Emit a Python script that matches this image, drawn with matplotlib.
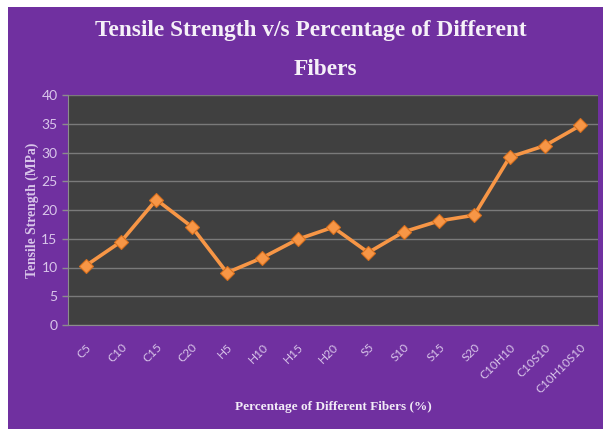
import matplotlib.pyplot as plt
from matplotlib.patches import Rectangle

categories = ["C5", "C10", "C15", "C20", "H5", "H10", "H15", "H20",
              "S5", "S10", "S15", "S20", "C10H10", "C10S10", "C10H10S10"]
strength = [10.3, 14.5, 21.8, 17.1, 9.1, 11.7, 14.9, 17.0,
            12.6, 16.2, 18.1, 19.1, 29.2, 31.2, 34.7]
y_ticks = [0, 5, 10, 15, 20, 25, 30, 35, 40]

purple = "#7030A0"
lavender = "#D9C6EA"
tick_font = "Lato"

fig = plt.figure(figsize=(6.03, 4.29), dpi=100)
fig.patch.set_facecolor("white")
# purple chart area with a thin white margin top/left
fig.add_artist(Rectangle((8 / 603, 0), 1, 1 - 7 / 429, transform=fig.transFigure,
                         facecolor=purple, edgecolor="none", zorder=-5))

ax = fig.add_axes([68 / 603, 104 / 429, 530 / 603, 230 / 429])
ax.set_facecolor("#404040")

x = list(range(len(categories)))
ax.plot(x, strength, color="#F79646", lw=2.6, marker="D", markersize=7,
        markerfacecolor="#F79646", markeredgecolor="#D9701E", markeredgewidth=0.8,
        zorder=3)

ax.set_xlim(-0.5, len(categories) - 0.5)
ax.set_ylim(0, 40)
ax.set_yticks(y_ticks)
ax.set_xticks(x)
ax.set_xticklabels(categories, rotation=45, ha="right", rotation_mode="anchor",
                   fontsize=8.6, color=lavender, family=tick_font)
ax.tick_params(axis="y", labelsize=10, labelcolor=lavender, color="#8C8C8C",
               length=4, width=1)
ax.tick_params(axis="x", length=0, pad=12)
for lbl in ax.get_yticklabels():
    lbl.set_family(tick_font)

ax.grid(axis="y", color="#7A7A7A", lw=1)
ax.set_axisbelow(True)
for s in ["top", "right"]:
    ax.spines[s].set_visible(False)
ax.spines["left"].set_color("#8C8C8C")
ax.spines["bottom"].set_color("#8C8C8C")

ax.set_ylabel("Tensile Strength (MPa)", family="Liberation Serif", fontweight="bold",
              fontsize=9.8, color=lavender, labelpad=2)
fig.text(333 / 603, 1 - 407 / 429, "Percentage of Different Fibers (%)",
         family="Liberation Serif", fontweight="bold", fontsize=9.5,
         color="#F2ECF7", ha="center", va="center")

# title on two lines, as in the source chart
fig.text(311 / 603, 1 - 36 / 429, "Tensile Strength v/s Percentage of Different",
         family="Liberation Serif", fontweight="bold", fontsize=16.8,
         color="#F5F0F8", ha="center", va="baseline")
fig.text(325 / 603, 1 - 75 / 429, "Fibers",
         family="Liberation Serif", fontweight="bold", fontsize=16.8,
         color="#F5F0F8", ha="center", va="baseline")

fig.savefig("out.png", dpi=100, facecolor=fig.get_facecolor())
